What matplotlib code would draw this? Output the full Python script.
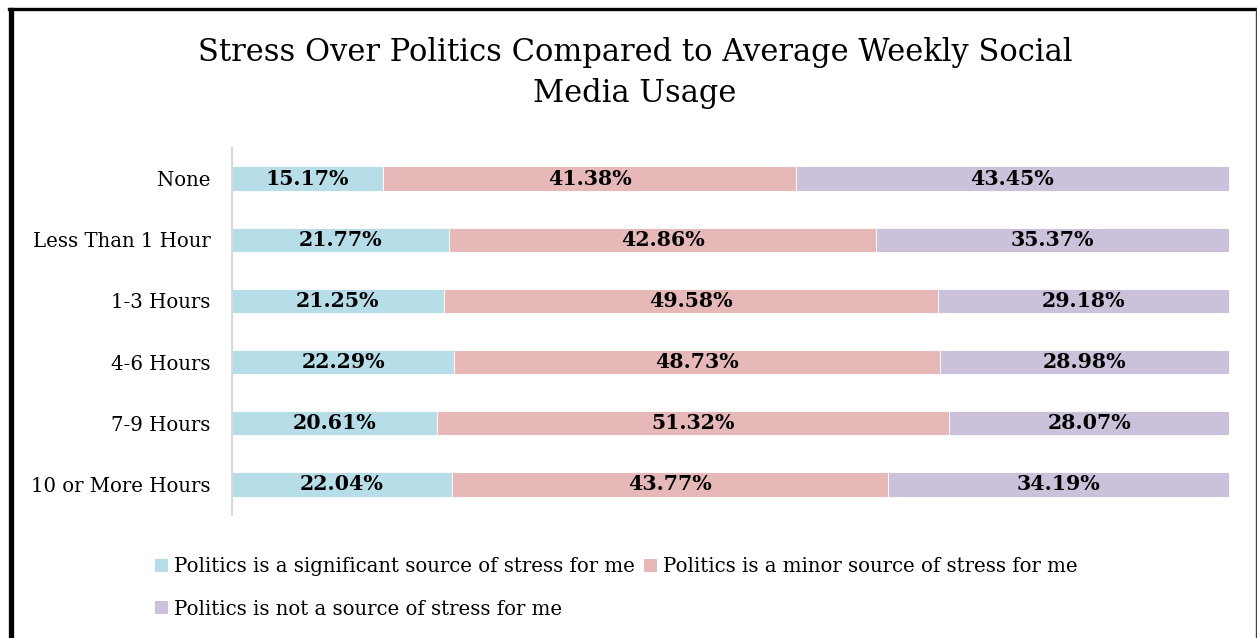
import numpy as np
import matplotlib.pyplot as plt
from matplotlib.lines import Line2D
from matplotlib.patches import Patch

categories = ["None", "Less Than 1 Hour", "1-3 Hours", "4-6 Hours", "7-9 Hours", "10 or More Hours"]
significant = [15.17, 21.77, 21.25, 22.29, 20.61, 22.04]
minor = [41.38, 42.86, 49.58, 48.73, 51.32, 43.77]
not_source = [43.45, 35.37, 29.18, 28.98, 28.07, 34.19]
series_names = ["Politics is a significant source of stress for me",
                "Politics is a minor source of stress for me",
                "Politics is not a source of stress for me"]
colors = ["#b7dde8", "#e6b9b8", "#ccc1da"]

plt.rcParams['font.family'] = ['DejaVu Serif']

W, H = 1257, 638
fig = plt.figure(figsize=(W / 100, H / 100), dpi=100)
ax = fig.add_axes([232 / W, 1 - 515 / H, (1229 - 232) / W, (515 - 148) / H])

y = np.arange(len(categories))
left = np.zeros(len(categories))
handles = []
for vals, col, name in zip([significant, minor, not_source], colors, series_names):
    vals = np.array(vals)
    ax.barh(y, vals, left=left, height=0.4, color=col, edgecolor='white', linewidth=0.6)
    for yi, l, v in zip(y, left, vals):
        ax.text(l + v / 2, yi, '%.2f%%' % v, ha='center', va='center',
                fontsize=14.8, fontweight='bold', color='black')
    left += vals
    handles.append(Patch(facecolor=col, edgecolor='none', label=name))

ax.set_xlim(0, 100)
ax.set_ylim(len(categories) - 0.5, -0.5)
ax.set_yticks(y)
ax.set_yticklabels(categories, fontsize=14.2)
ax.tick_params(axis='y', length=0, pad=15.5)
ax.set_xticks([])
for s in ['top', 'right', 'bottom']:
    ax.spines[s].set_visible(False)
ax.spines['left'].set_color('#d9d9d9')
ax.spines['left'].set_linewidth(1.5)

fig.text(635 / W, 1 - 73 / H, "Stress Over Politics Compared to Average Weekly Social\nMedia Usage",
         ha='center', va='center', fontsize=22, linespacing=1.45)

order = [handles[0], handles[2], handles[1]]
fig.legend(handles=order, labels=[h.get_label() for h in order], ncol=2,
           loc='center left', bbox_to_anchor=(145 / W, 1 - 588 / H),
           frameon=False, fontsize=14.2, handlelength=0.65, handleheight=0.65,
           handletextpad=0.3, columnspacing=0.5, labelspacing=1.2, borderpad=0)

# frame around the chart
fig.add_artist(Line2D([10.5 / W, 10.5 / W], [0, 1 - 10 / H], color='black', lw=3.8))
fig.add_artist(Line2D([8.6 / W, 1255.5 / W], [1 - 8.5 / H, 1 - 8.5 / H], color='black', lw=2.4))
fig.add_artist(Line2D([1255.5 / W, 1255.5 / W], [0, 1 - 8.5 / H], color='#404040', lw=1.0))

fig.savefig('out.png', dpi=100)
